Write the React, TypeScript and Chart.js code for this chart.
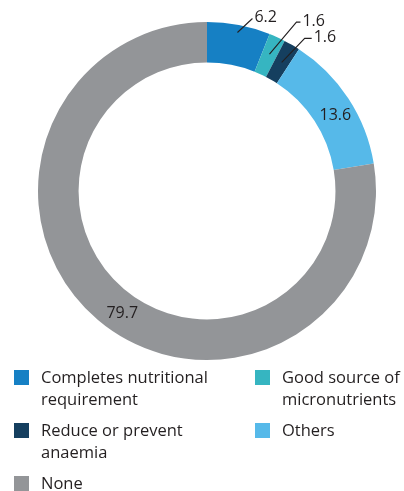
import React, { useEffect, useRef } from "react";
import { Chart, registerables } from "chart.js";

Chart.register(...registerables);

const categories = [
  "Completes nutritional\nrequirement",
  "Good source of\nmicronutrients",
  "Reduce or prevent\nanaemia",
  "Others",
  "None",
];
const values = [6.2, 1.6, 1.6, 13.6, 79.7];
const valueLabels = ["6.2", "1.6", "1.6", "13.6", "79.7"];
const colors = ["#1680C4", "#36B5C1", "#153F5F", "#56B9E9", "#939598"];
// legend order (two columns, row by row)
const legendOrder = [0, 1, 2, 3, 4];

const FONT = "'Open Sans', sans-serif";
const TEXT = "#231F20";

type LabelCfg =
  | { kind: "leader"; r: number; dx: number; dy: number; tail: number }
  | { kind: "inside"; frac: number };

const labelCfg: LabelCfg[] = [
  { kind: "leader", r: 0.955, dx: 15, dy: -14, tail: 0 },
  { kind: "leader", r: 0.89, dx: 27, dy: -32, tail: 4 },
  { kind: "leader", r: 0.88, dx: 23, dy: -24, tail: 7 },
  { kind: "inside", frac: 0.56 },
  { kind: "inside", frac: 0.48 },
];

const labelPlugin = {
  id: "valueLabels",
  afterDatasetsDraw(chart: any) {
    const ctx = chart.ctx as CanvasRenderingContext2D;
    const meta = chart.getDatasetMeta(0);
    ctx.save();
    ctx.font = `16px ${FONT}`;
    ctx.fillStyle = TEXT;
    ctx.strokeStyle = TEXT;
    ctx.lineWidth = 1.1;
    meta.data.forEach((arc: any, i: number) => {
      const p = arc.getProps(["x", "y", "startAngle", "endAngle", "innerRadius", "outerRadius"], true);
      const cfg = labelCfg[i];
      if (cfg.kind === "leader") {
        const mid = (p.startAngle + p.endAngle) / 2;
        const r = p.outerRadius * cfg.r;
        const sx = p.x + r * Math.cos(mid);
        const sy = p.y + r * Math.sin(mid);
        const ex = sx + cfg.dx;
        const ey = sy + cfg.dy;
        ctx.beginPath();
        ctx.moveTo(sx, sy);
        ctx.lineTo(ex, ey);
        if (cfg.tail) ctx.lineTo(ex + cfg.tail, ey);
        ctx.stroke();
        ctx.textAlign = "left";
        ctx.textBaseline = "middle";
        ctx.fillText(valueLabels[i], ex + cfg.tail + 2, ey - 1);
      } else {
        const a = p.startAngle + (p.endAngle - p.startAngle) * cfg.frac;
        const r = (p.innerRadius + p.outerRadius) / 2;
        ctx.textAlign = "center";
        ctx.textBaseline = "middle";
        ctx.fillText(valueLabels[i], p.x + r * Math.cos(a), p.y + r * Math.sin(a));
      }
    });
    ctx.restore();
  },
};

export default function App() {
  const ref = useRef<HTMLCanvasElement>(null);
  useEffect(() => {
    if (!ref.current) return;
    const chart = new Chart(ref.current, {
      type: "doughnut",
      data: {
        labels: categories.map((c) => c.replace("\n", " ")),
        datasets: [
          {
            data: values,
            backgroundColor: colors,
            borderWidth: 0,
          },
        ],
      },
      options: {
        animation: false,
        responsive: false,
        cutout: "76%",
        layout: { padding: { left: 38, right: 28, top: 22, bottom: 20 } },
        plugins: {
          legend: { display: false },
          tooltip: { enabled: false },
        },
      },
      plugins: [labelPlugin],
    });
    return () => chart.destroy();
  }, []);

  const rows: number[][] = [];
  for (let i = 0; i < legendOrder.length; i += 2) rows.push(legendOrder.slice(i, i + 2));

  return (
    <div style={{ position: "absolute", left: 0, top: 0, width: 404, height: 491, background: "#fff" }}>
      <canvas ref={ref} width={404} height={380} style={{ position: "absolute", left: 0, top: 0 }} />
      <div style={{ position: "absolute", left: 0, top: 366, width: 404 }}>
        {rows.map((row, ri) => (
          <div key={ri} style={{ display: "flex", marginBottom: 9 }}>
            {row.map((idx, ci) => (
              <div
                key={idx}
                style={{
                  position: "relative",
                  width: ci === 0 ? 255 : 149,
                  paddingLeft: ci === 0 ? 14 : 0,
                  display: "flex",
                  alignItems: "flex-start",
                  boxSizing: "border-box",
                }}
              >
                <span
                  style={{
                    display: "inline-block",
                    width: 15,
                    height: 15,
                    marginTop: 4,
                    background: colors[idx],
                    flex: "0 0 auto",
                  }}
                />
                <span
                  style={{
                    marginLeft: 12,
                    font: `16.5px ${FONT}`,
                    lineHeight: "22px",
                    color: TEXT,
                    whiteSpace: "pre",
                  }}
                >
                  {categories[idx]}
                </span>
              </div>
            ))}
          </div>
        ))}
      </div>
    </div>
  );
}
